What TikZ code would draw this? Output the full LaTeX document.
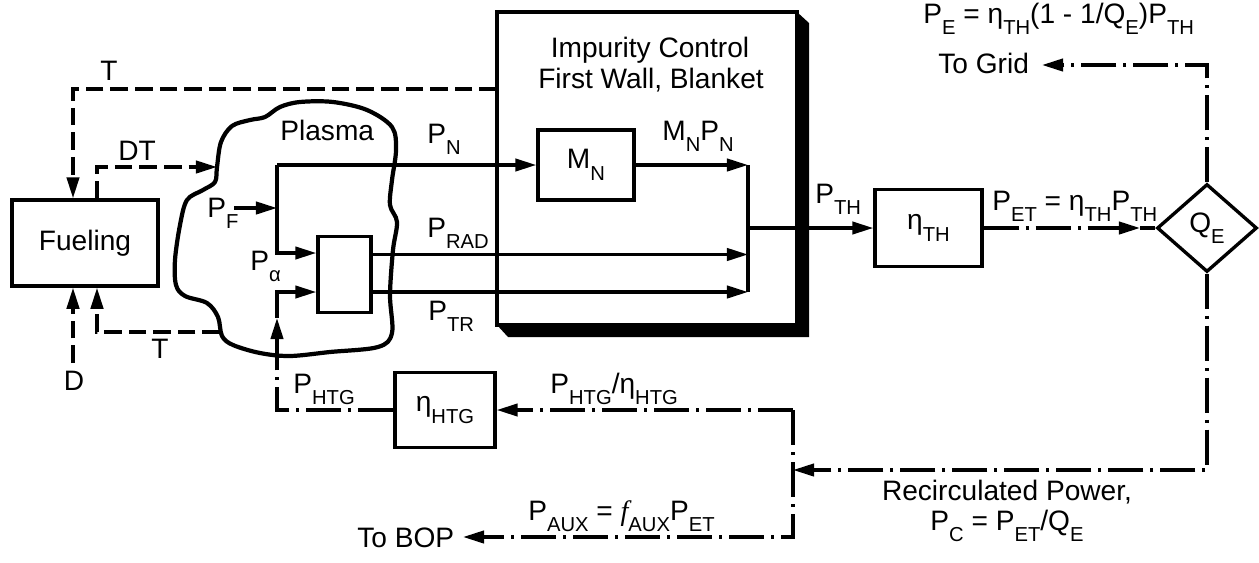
\documentclass[tikz,border=0pt]{standalone}
\usepackage{fontspec}
\setmainfont{Liberation Sans}
\newfontfamily\serifit{Liberation Serif}
\usetikzlibrary{arrows.meta,shapes.geometric,calc}
\newcommand{\lsub}[1]{\raisebox{-6.5pt}{\fontsize{11.5pt}{12pt}\selectfont #1}}
\begin{document}
\begin{tikzpicture}[x=0.02cm,y=-0.02cm,
	font=\fontsize{16pt}{18pt}\selectfont,
	box/.style={draw,line width=1.9pt,inner sep=0pt},
	flow/.style={line width=1.9pt},
	fuelline/.style={line width=1.9pt,dash pattern=on 10pt off 4pt},
	elec/.style={line width=1.9pt,dash pattern=on 20pt off 4pt on 1.6pt off 4pt},
	arr/.style={-{Triangle[length=12pt,width=7pt]}},
	lbl/.style={anchor=base west,inner sep=0pt}]
	\useasboundingbox (0,0) rectangle (1259,562);
	% blocks
	\node[box,minimum width=2.92cm,minimum height=1.72cm] (fuel) at (85,243) {Fueling};
	\node[box,minimum width=1.06cm,minimum height=1.52cm] (mix) at (344.5,274.5) {};
	\node[box,minimum width=1.92cm,minimum height=1.4cm] (mn) at (586,165) {M\lsub{N}};
	\node[box,minimum width=6cm,minimum height=6.26cm] (wall) at (647,168.5) {};
	\node[box,minimum width=2.14cm,minimum height=1.54cm] (etath) at (928.5,228) {η\lsub{TH}};
	\node[box,diamond,minimum width=2cm,minimum height=1.76cm] (qe) at (1207,228) {Q\lsub{E}};
	\node[box,minimum width=2cm,minimum height=1.5cm] (etahtg) at (445,410) {η\lsub{HTG}};
	\fill (797,12) -- (809,23) -- (809,337) -- (508,337) -- (497,325) -- (797,325) -- cycle;
	% plasma
	\draw[line width=2.4pt] plot[smooth cycle,tension=0.55] coordinates {(217,167) (221,142) (232,126) (250,120) (265,117) (280,107) (300,102) (333,102) (367,110) (392,127) (396,150) (392,180) (390,205) (397,222) (393,250) (390,295) (392,333) (378,347) (330,352) (290,356) (260,353) (233,345) (222,336) (218,317) (207,303) (185,296) (176,285) (175,260) (180,225) (187,200) (203,190) (215,182)};
	\coordinate (tin) at (497,89);
	\coordinate (dtin) at (217,167);
	\coordinate (tret) at (220,332);
	\coordinate (dsrc) at (73,363);
	\coordinate (pfs) at (234,208);
	\coordinate (jn) at (277,165);
	\coordinate (hbot) at (277,355);
	\coordinate (hmid) at (277,318);
	\coordinate (radout) at (371,254.5);
	\coordinate (trout) at (371,292);
	\coordinate (col) at (748,165);
	\coordinate (colb) at (748,292);
	\coordinate (colm) at (748,228);
	\coordinate (qin) at (1140,228);
	\coordinate (grid) at (1042,65);
	\coordinate (recirc) at (793,470);
	\coordinate (bop) at (463,537);
	% fuel cycle
	\draw[fuelline,arr] (tin) -| ($(fuel.north)+(-12,0)$);
	\draw[fuelline,arr] ($(fuel.north)+(12,0)$) |- (dtin);
	\draw[fuelline,arr] (tret) -| ($(fuel.south)+(12,0)$);
	\draw[fuelline,arr] (dsrc) -- ($(fuel.south)+(-12,0)$);
	% power flow
	\draw[flow,arr] (pfs) -- (pfs -| jn);
	\draw[flow,arr] (jn) |- ($(mix.west)+(0,-21.5)$);
	\draw[flow,arr] (jn) -- (mn.west);
	\draw[elec] (etahtg.west) -| (hbot);
	\draw[flow,arr] (hbot) -- (hmid);
	\draw[flow,arr] (hmid) |- ($(mix.west)+(0,17.5)$);
	\draw[flow,arr] (mn.east) -- (mn.east -| col);
	\draw[flow,arr] (radout) -- (radout -| col);
	\draw[flow,arr] (trout) -- (trout -| col);
	\draw[flow] (col) -- (colb);
	\draw[flow,arr] (colm) -- (etath.west);
	\draw[elec,arr] (etath.east) -- (qin);
	\draw[elec] (qin) -- (qe.west);
	\draw[elec,arr] (qe.north) |- (grid);
	\draw[elec,arr] (qe.south) |- (recirc);
	\draw[elec,arr] (etahtg.east -| recirc) |- (bop);
	\draw[elec,arr] (etahtg.east -| recirc) -- (etahtg.east);
	% labels
	\node[anchor=base,inner sep=0pt] (lbltop) at (109,80) {T};
	\node[anchor=base,inner sep=0pt] (lbldt) at (137,160) {DT};
	\node[anchor=base,inner sep=0pt] (lblt) at (160,358) {T};
	\node[anchor=base,inner sep=0pt] (lbld) at (74,390) {D};
	\node[lbl] (lblplasma) at (280,140) {Plasma};
	\node[lbl] (lblpf) at (207,217) {P\lsub{F}};
	\node[lbl] (lblpa) at (250,270) {P\lsub{α}};
	\node[lbl] (lblpn) at (427,143) {P\lsub{N}};
	\node[lbl] (lblprad) at (427,237) {P\lsub{RAD}};
	\node[lbl] (lblptr) at (428,320) {P\lsub{TR}};
	\node[lbl] (lblmnpn) at (662,140) {M\lsub{N}P\lsub{N}};
	\node[anchor=base,inner sep=0pt] (lblwall1) at (650,57) {Impurity Control};
	\node[anchor=base,inner sep=0pt] (lblwall2) at (651,88) {First Wall, Blanket};
	\node[lbl] (lblpth) at (815,203) {P\lsub{TH}};
	\node[lbl] (lblpe) at (923,23) {P\lsub{E} = η\lsub{TH}(1 - 1/Q\lsub{E})P\lsub{TH}};
	\node[lbl] (lblgrid) at (938,73) {To Grid};
	\node[lbl] (lblpet) at (992,210) {P\lsub{ET} = η\lsub{TH}P\lsub{TH}};
	\node[lbl] (lblphtg) at (293,393) {P\lsub{HTG}};
	\node[lbl] (lblratio) at (550,393) {P\lsub{HTG}/η\lsub{HTG}};
	\node[lbl] (lblpaux) at (528,520) {P\lsub{AUX} = {\serifit\itshape f}\lsub{AUX}P\lsub{ET}};
	\node[lbl] (lblbop) at (357,547) {To BOP};
	\node[anchor=base,inner sep=0pt] (lblrec1) at (1007,500) {Recirculated Power,};
	\node[anchor=base,inner sep=0pt] (lblrec2) at (1007,530) {P\lsub{C} = P\lsub{ET}/Q\lsub{E}};
\end{tikzpicture}
\end{document}
